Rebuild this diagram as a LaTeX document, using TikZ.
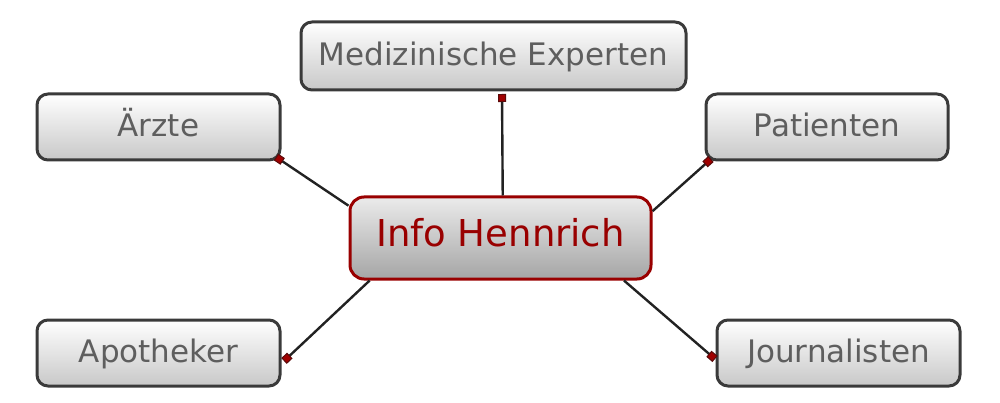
\documentclass[tikz,border=0pt]{standalone}
\usepackage{fontspec}
\setmainfont{DejaVu Sans}
\usetikzlibrary{arrows.meta}
\definecolor{boxline}{HTML}{3A3A3A}
\definecolor{boxtext}{HTML}{5E5E5E}
\definecolor{hubred}{HTML}{990000}
\definecolor{linkcol}{HTML}{222222}
\definecolor{tipfill}{HTML}{A00000}
\definecolor{tipline}{HTML}{5A0A0A}
\tikzset{
  leaf/.style={draw=boxline, line width=3pt, rounded corners=11pt,
    top color=white, bottom color={rgb,255:red,200;green,200;blue,200},
    text=boxtext, font=\fontsize{31}{36}\selectfont,
    inner sep=0pt, text height=19pt, text depth=0pt},
  hub/.style={draw=hubred, line width=3pt, rounded corners=14pt,
    top color={rgb,255:red,235;green,235;blue,235}, bottom color={rgb,255:red,165;green,165;blue,165},
    text=hubred, font=\fontsize{37}{42}\selectfont,
    inner sep=0pt, minimum width=301pt, minimum height=82pt,
    text height=27pt, text depth=9pt},
  link/.style={draw=linkcol, line width=2.4pt,
    -{Square[length=8pt,width=8pt,line width=1pt,fill=tipfill,color=tipline]}}
}
\begin{document}
\begin{tikzpicture}[x=1pt,y=-1pt]
\useasboundingbox (0,0) rectangle (1000,403);
\node[hub] (c) at (500.5,238) {Info Hennrich};
\node[leaf, minimum width=385pt, minimum height=68pt] (med) at (493.5,56) {Medizinische Experten};
\node[leaf, minimum width=243pt, minimum height=66pt] (arz) at (158.5,127) {Ärzte};
\node[leaf, minimum width=242pt, minimum height=66pt] (pat) at (827,127) {Patienten};
\node[leaf, minimum width=243pt, minimum height=66pt] (apo) at (158.5,353) {Apotheker};
\node[leaf, minimum width=243pt, minimum height=66pt] (jou) at (838.5,353) {Journalisten};
\coordinate (emed) at (502,94);
\coordinate (earz) at (276,157);
\coordinate (epat) at (711,159);
\coordinate (eapo) at (284,361);
\coordinate (ejou) at (715,359);
\draw[link] (c.87) -- (emed);
\draw[link] (c.168) -- (earz);
\draw[link] (c.10) -- (epat);
\draw[link] (c.198) -- (eapo);
\draw[link] (c.-19) -- (ejou);
\end{tikzpicture}
\end{document}
